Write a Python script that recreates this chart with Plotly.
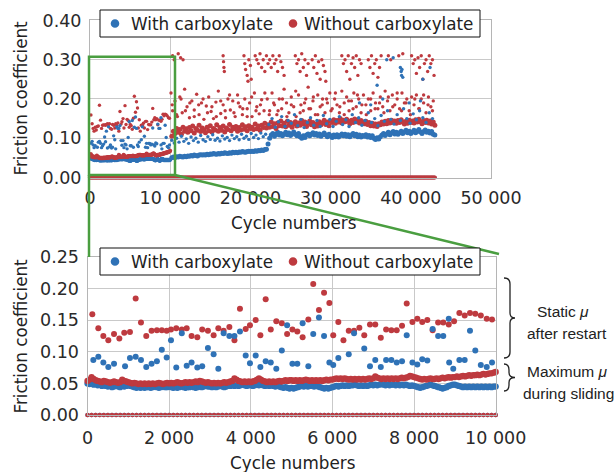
import plotly.graph_objects as go

W, H = 616, 472
BLUE = "#2f72b6"
RED = "#be3a3f"
GREEN = "rgb(74,158,64)"
GRID = "#c9c9c9"
FONT = "DejaVu Sans"

# ---------------- data ----------------
TOP_X_TICKS = [0, 10000, 20000, 30000, 40000, 50000]
TOP_X_LABELS = ["0", "10 000", "20 000", "30 000", "40 000", "50 000"]
TOP_Y_TICKS = [0.0, 0.1, 0.2, 0.3, 0.4]
TOP_Y_LABELS = ["0.00", "0.10", "0.20", "0.30", "0.40"]
LOW_X_TICKS = [0, 2000, 4000, 6000, 8000, 10000]
LOW_X_LABELS = ["0", "2 000", "4 000", "6 000", "8 000", "10 000"]
LOW_Y_TICKS = [0.0, 0.05, 0.10, 0.15, 0.20, 0.25]
LOW_Y_LABELS = ["0.00", "0.05", "0.10", "0.15", "0.20", "0.25"]

# maximum mu during sliding, first 10 000 cycles (every 50 cycles)
SLIDE_CYCLES_A = list(range(0, 10001, 50))
WITH_SLIDE_A = [
    0.050, 0.049, 0.051, 0.048, 0.049, 0.047, 0.048, 0.046, 0.047, 0.046,
    0.045, 0.046, 0.044, 0.045, 0.046, 0.045, 0.044, 0.046, 0.045, 0.046,
    0.047, 0.046, 0.045, 0.044, 0.043, 0.044, 0.043, 0.044, 0.043, 0.044,
    0.044, 0.043, 0.044, 0.045, 0.044, 0.043, 0.044, 0.045, 0.044, 0.044,
    0.045, 0.044, 0.043, 0.044, 0.043, 0.044, 0.045, 0.044, 0.043, 0.044,
    0.044, 0.045, 0.044, 0.043, 0.044, 0.045, 0.044, 0.045, 0.046, 0.045,
    0.045, 0.044, 0.045, 0.044, 0.045, 0.046, 0.045, 0.044, 0.045, 0.046,
    0.046, 0.047, 0.046, 0.047, 0.046, 0.047, 0.048, 0.047, 0.046, 0.047,
    0.047, 0.046, 0.047, 0.048, 0.047, 0.048, 0.047, 0.046, 0.047, 0.046,
    0.047, 0.046, 0.045, 0.046, 0.045, 0.044, 0.043, 0.044, 0.043, 0.042,
    0.043, 0.042, 0.043, 0.044, 0.045, 0.046, 0.045, 0.046, 0.045, 0.046,
    0.046, 0.045, 0.046, 0.045, 0.044, 0.043, 0.042, 0.043, 0.042, 0.043,
    0.044, 0.045, 0.046, 0.045, 0.046, 0.047, 0.046, 0.047, 0.046, 0.047,
    0.047, 0.048, 0.047, 0.046, 0.047, 0.046, 0.047, 0.046, 0.047, 0.048,
    0.047, 0.048, 0.047, 0.048, 0.049, 0.048, 0.047, 0.048, 0.047, 0.048,
    0.048, 0.047, 0.048, 0.047, 0.048, 0.047, 0.048, 0.047, 0.046, 0.047,
    0.046, 0.045, 0.044, 0.043, 0.044, 0.045, 0.046, 0.047, 0.048, 0.047,
    0.046, 0.045, 0.044, 0.043, 0.042, 0.043, 0.044, 0.046, 0.047, 0.048,
    0.048, 0.047, 0.046, 0.045, 0.044, 0.045, 0.044, 0.045, 0.044, 0.045,
    0.044, 0.045, 0.044, 0.045, 0.044, 0.045, 0.044, 0.045, 0.044, 0.045,
    0.045,
]
WITHOUT_SLIDE_A = [
    0.054, 0.056, 0.060, 0.057, 0.055, 0.054, 0.053, 0.052, 0.054, 0.053,
    0.052, 0.051, 0.052, 0.053, 0.052, 0.051, 0.052, 0.056, 0.054, 0.053,
    0.052, 0.051, 0.050, 0.051, 0.050, 0.049, 0.050, 0.049, 0.050, 0.049,
    0.050, 0.049, 0.050, 0.049, 0.050, 0.051, 0.050, 0.049, 0.050, 0.051,
    0.050, 0.051, 0.050, 0.051, 0.052, 0.051, 0.050, 0.051, 0.052, 0.051,
    0.052, 0.051, 0.052, 0.053, 0.052, 0.054, 0.053, 0.052, 0.051, 0.052,
    0.051, 0.050, 0.051, 0.050, 0.051, 0.050, 0.051, 0.052, 0.051, 0.052,
    0.053, 0.054, 0.058, 0.056, 0.054, 0.053, 0.052, 0.053, 0.052, 0.053,
    0.052, 0.053, 0.054, 0.056, 0.058, 0.056, 0.054, 0.053, 0.052, 0.053,
    0.052, 0.053, 0.052, 0.053, 0.054, 0.053, 0.054, 0.055, 0.054, 0.055,
    0.055, 0.054, 0.055, 0.054, 0.055, 0.054, 0.055, 0.056, 0.055, 0.054,
    0.055, 0.054, 0.055, 0.054, 0.055, 0.054, 0.055, 0.056, 0.055, 0.056,
    0.056, 0.057, 0.058, 0.057, 0.058, 0.057, 0.058, 0.057, 0.056, 0.057,
    0.056, 0.057, 0.056, 0.057, 0.056, 0.057, 0.056, 0.057, 0.058, 0.057,
    0.058, 0.061, 0.059, 0.058, 0.057, 0.058, 0.057, 0.058, 0.057, 0.058,
    0.057, 0.058, 0.057, 0.058, 0.059, 0.058, 0.059, 0.060, 0.062, 0.061,
    0.060, 0.059, 0.058, 0.057, 0.056, 0.057, 0.056, 0.057, 0.058, 0.057,
    0.057, 0.058, 0.057, 0.058, 0.059, 0.058, 0.059, 0.060, 0.059, 0.060,
    0.060, 0.061, 0.060, 0.061, 0.062, 0.061, 0.062, 0.063, 0.062, 0.063,
    0.063, 0.064, 0.063, 0.064, 0.065, 0.064, 0.065, 0.066, 0.066, 0.067,
    0.068,
]

# maximum mu during sliding, 10 200 - 43 000 cycles (every 200 cycles)
SLIDE_CYCLES_B = list(range(10200, 43001, 200))
WITH_SLIDE_B = [
    0.050, 0.052, 0.051, 0.053, 0.052, 0.054, 0.053, 0.052, 0.054, 0.053,
    0.055, 0.054, 0.056, 0.055, 0.057, 0.056, 0.055, 0.057, 0.058, 0.057,
    0.058, 0.057, 0.059, 0.058, 0.060, 0.059, 0.061, 0.060, 0.059, 0.061,
    0.060, 0.062, 0.061, 0.063, 0.062, 0.061, 0.063, 0.062, 0.064, 0.063,
    0.064, 0.063, 0.065, 0.064, 0.066, 0.065, 0.064, 0.066, 0.067, 0.066,
    0.067, 0.066, 0.068, 0.067, 0.069, 0.068, 0.070, 0.069, 0.071, 0.072,
    0.085, 0.100, 0.108, 0.112, 0.105, 0.110, 0.115, 0.108, 0.112, 0.106,
    0.110, 0.115, 0.109, 0.113, 0.107, 0.111, 0.116, 0.110, 0.106, 0.112,
    0.104, 0.100, 0.106, 0.102, 0.108, 0.111, 0.106, 0.110, 0.114, 0.108,
    0.112, 0.107, 0.111, 0.105, 0.109, 0.113, 0.108, 0.104, 0.110, 0.106,
    0.102, 0.108, 0.104, 0.109, 0.103, 0.107, 0.111, 0.106, 0.110, 0.105,
    0.109, 0.104, 0.108, 0.112, 0.106, 0.110, 0.104, 0.108, 0.103, 0.107,
    0.105, 0.109, 0.103, 0.107, 0.102, 0.106, 0.100, 0.097, 0.101, 0.098,
    0.104, 0.108, 0.112, 0.107, 0.111, 0.115, 0.109, 0.113, 0.117, 0.111,
    0.115, 0.110, 0.114, 0.118, 0.112, 0.116, 0.120, 0.114, 0.118, 0.112,
    0.116, 0.120, 0.114, 0.118, 0.122, 0.116, 0.112, 0.117, 0.121, 0.115,
    0.118, 0.113, 0.117, 0.110, 0.108,
]
WITHOUT_SLIDE_B = [
    0.105, 0.118, 0.112, 0.125, 0.115, 0.122, 0.110, 0.128, 0.118, 0.124,
    0.115, 0.127, 0.119, 0.131, 0.113, 0.125, 0.120, 0.133, 0.117, 0.126,
    0.121, 0.114, 0.128, 0.119, 0.132, 0.116, 0.125, 0.121, 0.134, 0.118,
    0.127, 0.120, 0.131, 0.116, 0.126, 0.122, 0.135, 0.119, 0.128, 0.124,
    0.130, 0.118, 0.127, 0.121, 0.134, 0.123, 0.129, 0.119, 0.132, 0.125,
    0.128, 0.122, 0.136, 0.124, 0.131, 0.120, 0.133, 0.127, 0.138, 0.126,
    0.134, 0.128, 0.141, 0.130, 0.137, 0.125, 0.139, 0.132, 0.144, 0.131,
    0.138, 0.129, 0.143, 0.133, 0.140, 0.128, 0.136, 0.142, 0.131, 0.139,
    0.133, 0.145, 0.136, 0.141, 0.130, 0.138, 0.144, 0.134, 0.140, 0.129,
    0.136, 0.131, 0.142, 0.134, 0.139, 0.146, 0.135, 0.141, 0.132, 0.143,
    0.140, 0.147, 0.138, 0.145, 0.141, 0.150, 0.139, 0.146, 0.142, 0.148,
    0.143, 0.137, 0.146, 0.140, 0.149, 0.142, 0.147, 0.139, 0.145, 0.141,
    0.137, 0.143, 0.135, 0.140, 0.132, 0.138, 0.131, 0.136, 0.130, 0.137,
    0.134, 0.141, 0.136, 0.143, 0.137, 0.145, 0.139, 0.146, 0.140, 0.144,
    0.138, 0.145, 0.140, 0.147, 0.141, 0.136, 0.143, 0.138, 0.146, 0.140,
    0.144, 0.139, 0.147, 0.141, 0.148, 0.142, 0.137, 0.145, 0.140, 0.146,
    0.139, 0.144, 0.136, 0.141, 0.133,
]

# static mu after restart, first 10 000 cycles
WITH_STATIC_CYCLES_A = [
    143, 265, 388, 510, 650, 920, 1040, 1180, 1310, 1440, 1570, 1700, 1820, 1940,
    2045, 2175, 2310, 2430, 2550, 2690, 2810, 2950, 3090, 3205, 3335, 3475, 3600,
    3735, 3875, 3980, 4120, 4235, 4365, 4490, 4625, 4760, 4890, 5020, 5140, 5270,
    5410, 5530, 5670, 5795, 5925, 6020, 6145, 6400, 6530, 6780, 6920, 7050, 7185,
    7315, 7445, 7575, 7705, 7820, 7960, 8080, 8200, 8325, 8455, 8590, 8715, 8850,
    8860, 8960, 9110, 9240, 9370, 9500, 9635, 9780, 9910,
]
WITH_STATIC_A = [
    0.087, 0.092, 0.083, 0.076, 0.081, 0.077, 0.090, 0.092, 0.087, 0.076, 0.081, 0.085, 0.103, 0.091,
    0.118, 0.075, 0.129, 0.078, 0.083, 0.075, 0.077, 0.106, 0.096, 0.073, 0.129, 0.125, 0.125,
    0.132, 0.094, 0.082, 0.094, 0.076, 0.085, 0.083, 0.073, 0.102, 0.142, 0.081, 0.081, 0.145,
    0.077, 0.128, 0.154, 0.125, 0.083, 0.079, 0.090, 0.096, 0.129, 0.105, 0.077, 0.087, 0.076,
    0.087, 0.087, 0.083, 0.085, 0.126, 0.083, 0.080, 0.088, 0.086, 0.136, 0.125, 0.125, 0.152,
    0.083, 0.073, 0.087, 0.087, 0.133, 0.102, 0.079, 0.076, 0.083,
]
WITHOUT_STATIC_CYCLES_A = [
    118, 265, 388, 510, 650, 780, 900, 1040, 1180, 1310, 1440, 1570, 1700, 1820, 1940,
    2045, 2175, 2310, 2430, 2550, 2690, 2810, 2950, 3090, 3205, 3335, 3475, 3600, 3735,
    3875, 3980, 4120, 4235, 4365, 4490, 4625, 4760, 4890, 5020, 5140, 5270, 5410, 5530,
    5670, 5795, 5925, 6020, 6145, 6270, 6400, 6530, 6660, 6780, 6920, 7050, 7185, 7315,
    7445, 7575, 7705, 7820, 7960, 8080, 8200, 8325, 8455, 8590, 8715, 8850, 8980, 9110,
    9240, 9370, 9500, 9635, 9780, 9910,
]
WITHOUT_STATIC_A = [
    0.159, 0.137, 0.125, 0.118, 0.128, 0.121, 0.130, 0.131, 0.184, 0.146, 0.125, 0.133, 0.134, 0.134, 0.133,
    0.135, 0.137, 0.135, 0.137, 0.125, 0.123, 0.135, 0.133, 0.126, 0.137, 0.133, 0.139, 0.118, 0.168,
    0.136, 0.142, 0.150, 0.126, 0.183, 0.135, 0.148, 0.145, 0.128, 0.135, 0.132, 0.123, 0.151, 0.207,
    0.166, 0.193, 0.177, 0.126, 0.147, 0.118, 0.133, 0.133, 0.138, 0.126, 0.143, 0.143, 0.122, 0.135,
    0.134, 0.134, 0.141, 0.176, 0.147, 0.152, 0.147, 0.150, 0.134, 0.146, 0.146, 0.143, 0.148, 0.161,
    0.157, 0.161, 0.160, 0.157, 0.152, 0.151,
]

# static mu after restart, 10 000 - 43 000 cycles
WITH_STATIC_CYCLES_B = [
    10200, 10500, 10800, 11100, 11400, 11700, 12000, 12300, 12600, 12900, 13200, 13500,
    13800, 14100, 14400, 14700, 15000, 15300, 15600, 15900, 16200, 16500, 16800, 17100,
    17400, 17700, 18000, 18300, 18600, 18900, 19200, 19500, 19800, 20100, 20400, 20700,
    21000, 21300, 21600, 21900,
    22300, 22700, 23100, 23500, 23900, 24300, 24700, 25100, 25500, 25900, 26300, 26700,
    27100, 27500, 27900, 28300, 28700, 29100, 29500, 29900, 30300, 30700, 31100, 31500,
    31900, 32300, 32700, 33100, 33500, 33900, 34300, 34700, 35100, 35500, 35900, 36300,
    36700, 37100, 37500, 37900, 38300, 38700, 39100, 39500, 39900, 40300, 40700, 41100,
    41500, 41900, 42300, 42700,
    33600, 35000, 36500, 39800, 41200,
    37000, 37800, 38700, 38800, 38850, 38900, 39000, 41500, 42400, 35800,
]
WITH_STATIC_B = [
    0.095, 0.088, 0.100, 0.090, 0.105, 0.092, 0.098, 0.087, 0.103, 0.094, 0.100, 0.090,
    0.107, 0.096, 0.092, 0.104, 0.097, 0.109, 0.095, 0.100, 0.093, 0.106, 0.098, 0.102,
    0.094, 0.108, 0.099, 0.104, 0.096, 0.110, 0.100, 0.105, 0.097, 0.112, 0.102, 0.108,
    0.099, 0.113, 0.104, 0.110,
    0.135, 0.150, 0.128, 0.142, 0.155, 0.130, 0.145, 0.138, 0.160, 0.132, 0.148, 0.127,
    0.140, 0.152, 0.133, 0.145, 0.130, 0.158, 0.137, 0.148, 0.130, 0.143, 0.155, 0.135,
    0.147, 0.130, 0.160, 0.140, 0.152, 0.133, 0.145, 0.165, 0.140, 0.150, 0.132, 0.158,
    0.143, 0.170, 0.148, 0.136, 0.160, 0.145, 0.175, 0.150, 0.138, 0.162, 0.147, 0.170,
    0.152, 0.140, 0.165, 0.150,
    0.190, 0.185, 0.200, 0.190, 0.195,
    0.300, 0.305, 0.280, 0.270, 0.260, 0.275, 0.255, 0.250, 0.280, 0.235,
]
WITHOUT_STATIC_CYCLES_B = [
    10100, 10300, 10600, 10900, 11200, 11500, 11800, 12100, 12400, 12700, 13000, 13300,
    13600, 13900, 14200, 14500, 14800, 15100, 15400, 15700, 16000, 16300, 16600, 16900,
    17200, 17500, 17800, 18100, 18400, 18700, 19000, 19300, 19600, 19900, 20200, 20500,
    20800, 21100, 21400, 21700,
    10300, 10500, 11000, 11300, 11600, 16600, 16650, 16700, 16750,
    19200, 19300, 19400, 19600, 19700, 19800, 20000, 20100,
    20600, 20800, 21000, 21200, 21400, 21600, 21800, 22000, 22200, 22400, 22600, 22800,
    23000, 23200, 23400, 23600, 23800, 24000, 24200,
    25600, 25800, 26000, 26200, 26400, 26600, 26800, 27000, 27200,
    27700, 27900, 28100, 28300, 28500, 28700, 28900, 29100, 29300, 29400,
    31400, 31600, 31800, 32000, 32200, 32400, 32600, 32800, 33000, 33200, 33400, 33600, 33800,
    34700, 34900, 35100, 35300, 35500, 35700, 35900, 36100, 36300,
    37200, 37500, 38500, 39000,
    40100, 40300, 40500, 40700, 40900, 41100, 41300, 41500, 41700, 41900, 42100, 42300,
    42500, 42700, 42900,
    22100, 22400, 22700, 23000, 23300, 23600, 23900, 24200, 24500, 24800, 25100, 25400,
    25700, 26000, 26300, 26600, 26900, 27200, 27500, 27800, 28100, 28400, 28700, 29000,
    29300, 29600, 29900, 30200, 30500, 30800, 31100, 31400, 31700, 32000, 32300, 32600,
    32900, 33200, 33500, 33800, 34100, 34400, 34700, 35000, 35300, 35600, 35900, 36200,
    36500, 36800, 37100, 37400, 37700, 38000, 38300, 38600, 38900, 39200, 39500, 39800,
    40100, 40400, 40700, 41000, 41300, 41600, 41900, 42200, 42500, 42800,
]
WITHOUT_STATIC_B = [
    0.215, 0.170, 0.195, 0.155, 0.205, 0.165, 0.225, 0.180, 0.152, 0.195, 0.172, 0.212,
    0.160, 0.190, 0.148, 0.182, 0.205, 0.168, 0.150, 0.192, 0.220, 0.163, 0.185, 0.152,
    0.200, 0.172, 0.195, 0.155, 0.210, 0.180, 0.160, 0.200, 0.175, 0.190, 0.155, 0.215,
    0.180, 0.162, 0.198, 0.170,
    0.310, 0.300, 0.315, 0.305, 0.300, 0.310, 0.295, 0.280, 0.270,
    0.310, 0.290, 0.275, 0.260, 0.245, 0.300, 0.285, 0.250,
    0.310, 0.300, 0.290, 0.315, 0.280, 0.300, 0.270, 0.310, 0.290, 0.300, 0.280, 0.310,
    0.290, 0.300, 0.270, 0.310, 0.295, 0.280, 0.260,
    0.310, 0.290, 0.300, 0.270, 0.315, 0.280, 0.300, 0.260, 0.290,
    0.300, 0.280, 0.310, 0.265, 0.295, 0.250, 0.300, 0.285, 0.270, 0.245,
    0.310, 0.290, 0.300, 0.270, 0.310, 0.250, 0.290, 0.305, 0.280, 0.310, 0.260, 0.300, 0.290,
    0.300, 0.280, 0.310, 0.265, 0.290, 0.300, 0.255, 0.280, 0.310,
    0.310, 0.300, 0.310, 0.315,
    0.310, 0.290, 0.300, 0.265, 0.305, 0.280, 0.310, 0.250, 0.290, 0.300, 0.270, 0.310,
    0.290, 0.300, 0.260,
    0.200, 0.170, 0.215, 0.185, 0.160, 0.200, 0.175, 0.225, 0.190, 0.165, 0.205, 0.180,
    0.155, 0.210, 0.185, 0.170, 0.200, 0.230, 0.175, 0.195, 0.160, 0.210, 0.180, 0.200,
    0.165, 0.190, 0.215, 0.175, 0.200, 0.185, 0.165, 0.220, 0.190, 0.205, 0.170, 0.195,
    0.215, 0.180, 0.200, 0.165, 0.210, 0.185, 0.200, 0.170, 0.215, 0.190, 0.175, 0.205,
    0.180, 0.220, 0.195, 0.170, 0.210, 0.185, 0.200, 0.175, 0.215, 0.190, 0.200, 0.170,
    0.205, 0.185, 0.210, 0.175, 0.200, 0.190, 0.165, 0.205, 0.180, 0.195,
]
WITHOUT_STATIC_CYCLES_C = [
    10250, 10800, 11350, 11900, 12450, 13000, 13550, 14100, 14650, 15200, 15750, 16300,
    16850, 17400, 17950, 18500, 19050, 19600, 20150, 20700, 21250, 21800, 22350, 22900,
    23450, 24000, 24550, 25100, 25650, 26200, 26750, 27300, 27850, 28400, 28950, 29500,
    30050, 30600, 31150, 31700, 32250, 32800, 33350, 33900, 34450, 35000, 35550, 36100,
    36650, 37200, 37750, 38300, 38850, 39400, 39950, 40500, 41050, 41600, 42150, 42700,
]
WITHOUT_STATIC_C = [
    0.185, 0.160, 0.200, 0.170, 0.190, 0.155, 0.185, 0.200, 0.165, 0.180, 0.155, 0.195,
    0.170, 0.210, 0.165, 0.190, 0.175, 0.155, 0.205, 0.170, 0.185, 0.215, 0.160, 0.190,
    0.170, 0.200, 0.155, 0.185, 0.220, 0.165, 0.190, 0.175, 0.205, 0.160, 0.185, 0.200,
    0.170, 0.215, 0.180, 0.160, 0.195, 0.175, 0.210, 0.185, 0.160, 0.200, 0.175, 0.190,
    0.165, 0.205, 0.180, 0.215, 0.170, 0.190, 0.160, 0.200, 0.175, 0.210, 0.185, 0.170,
]

# readings of zero between runs
ZERO_CYCLES_TOP = list(range(0, 43001, 100))
ZERO_TOP = [0.0] * len(ZERO_CYCLES_TOP)
ZERO_CYCLES_LOW = list(range(0, 10001, 100))
ZERO_LOW = [0.0] * len(ZERO_CYCLES_LOW)

SERIES_NAMES = ["With carboxylate", "Without carboxylate"]

# ---------------- figure ----------------
def px(x):
    return x / W


def py(y):
    return 1 - y / H


fig = go.Figure()


def add(x, y, color, size, xa, ya, name):
    fig.add_trace(go.Scatter(
        x=x, y=y, mode="markers", name=name, showlegend=False,
        marker=dict(color=color, size=size, line=dict(width=0)),
        xaxis=xa, yaxis=ya, cliponaxis=False, hoverinfo="skip"))


# top panel (whole test)
add(ZERO_CYCLES_TOP, ZERO_TOP, BLUE, 3.5, "x", "y", SERIES_NAMES[0])
add(ZERO_CYCLES_TOP, ZERO_TOP, RED, 4.2, "x", "y", SERIES_NAMES[1])
add(SLIDE_CYCLES_A, WITH_SLIDE_A, BLUE, 4, "x", "y", SERIES_NAMES[0])
add(SLIDE_CYCLES_B, WITH_SLIDE_B, BLUE, 5, "x", "y", SERIES_NAMES[0])
add(SLIDE_CYCLES_A, WITHOUT_SLIDE_A, RED, 4, "x", "y", SERIES_NAMES[1])
add(SLIDE_CYCLES_B, WITHOUT_SLIDE_B, RED, 5, "x", "y", SERIES_NAMES[1])
add(WITHOUT_STATIC_CYCLES_A + WITHOUT_STATIC_CYCLES_B + WITHOUT_STATIC_CYCLES_C,
    WITHOUT_STATIC_A + WITHOUT_STATIC_B + WITHOUT_STATIC_C, RED, 3.4, "x", "y", SERIES_NAMES[1])
add(WITH_STATIC_CYCLES_A + WITH_STATIC_CYCLES_B, WITH_STATIC_A + WITH_STATIC_B, BLUE, 3.4, "x", "y", SERIES_NAMES[0])

# bottom panel (first 10 000 cycles)
add(ZERO_CYCLES_LOW, ZERO_LOW, BLUE, 4.5, "x2", "y2", SERIES_NAMES[0])
add(ZERO_CYCLES_LOW, ZERO_LOW, RED, 4.5, "x2", "y2", SERIES_NAMES[1])
add(SLIDE_CYCLES_A, WITH_SLIDE_A, BLUE, 6.3, "x2", "y2", SERIES_NAMES[0])
add(SLIDE_CYCLES_A, WITHOUT_SLIDE_A, RED, 6.3, "x2", "y2", SERIES_NAMES[1])
add(WITHOUT_STATIC_CYCLES_A, WITHOUT_STATIC_A, RED, 6, "x2", "y2", SERIES_NAMES[1])
add(WITH_STATIC_CYCLES_A, WITH_STATIC_A, BLUE, 6, "x2", "y2", SERIES_NAMES[0])

tickfont = dict(family=FONT, size=17.5, color="#2a2a2a")
axis_common = dict(showgrid=True, gridcolor=GRID, gridwidth=1, zeroline=False,
                   showline=True, linecolor="#b5b5b5", linewidth=1, mirror=True,
                   ticks="", tickfont=tickfont, fixedrange=True, automargin=False)

fig.update_layout(
    template="none",
    width=W, height=H, autosize=False, margin=dict(l=0, r=0, t=0, b=0, pad=0),
    paper_bgcolor="white", plot_bgcolor="white", showlegend=False,
    font=dict(family=FONT, color="#222222"),
    xaxis=dict(domain=[px(90), px(491)], range=[0, 50000], anchor="y",
               tickvals=TOP_X_TICKS, ticktext=TOP_X_LABELS, ticklabelstandoff=4, **axis_common),
    yaxis=dict(domain=[py(177.5), py(20.4)], range=[0, 0.4], anchor="x",
               tickvals=TOP_Y_TICKS, ticktext=TOP_Y_LABELS, ticklabelstandoff=4, **axis_common),
    xaxis2=dict(domain=[px(87.5), px(495.7)], range=[0, 10000], anchor="y2",
                tickvals=LOW_X_TICKS, ticktext=LOW_X_LABELS, ticklabelstandoff=7, **axis_common),
    yaxis2=dict(domain=[py(415.1), py(256.7)], range=[0, 0.25], anchor="x2",
                tickvals=LOW_Y_TICKS, ticktext=LOW_Y_LABELS, ticklabelstandoff=4, **axis_common),
)

shapes = []
ann = []
# green zoom indicator
gline = dict(color=GREEN, width=2.5)
shapes.append(dict(type="rect", xref="paper", yref="paper", x0=px(89), x1=px(175),
                   y0=py(175), y1=py(56.7), line=gline, layer="above"))
shapes.append(dict(type="line", xref="paper", yref="paper", x0=px(89), x1=px(89),
                   y0=py(175), y1=py(257), line=gline, layer="above"))
shapes.append(dict(type="line", xref="paper", yref="paper", x0=px(175), x1=px(499),
                   y0=py(175), y1=py(254), line=gline, layer="above"))

# legends
for top in (10, 248):
    bot = top + 27
    cy = (top + bot) / 2
    shapes.append(dict(type="rect", xref="paper", yref="paper", x0=px(100), x1=px(480),
                       y0=py(bot), y1=py(top), line=dict(color="#111111", width=1),
                       fillcolor="white", layer="above"))
    for cx, col in ((115, BLUE), (293, RED)):
        r = 4.3
        shapes.append(dict(type="circle", xref="paper", yref="paper", x0=px(cx - r), x1=px(cx + r),
                           y0=py(cy + r), y1=py(cy - r), line=dict(width=0), fillcolor=col,
                           layer="above"))
    ann.append(dict(text=SERIES_NAMES[0], x=px(129), y=py(cy + 0.5), xanchor="left", yanchor="middle"))
    ann.append(dict(text=SERIES_NAMES[1], x=px(301.5), y=py(cy + 0.5), xanchor="left", yanchor="middle"))

# axis titles
for cy in (98, 336):
    ann.append(dict(text="Friction coefficient", x=px(20.5), y=py(cy), textangle=-90,
                    xanchor="center", yanchor="middle"))
ann.append(dict(text="Cycle numbers", x=px(293), y=py(223), xanchor="center", yanchor="middle"))
ann.append(dict(text="Cycle numbers", x=px(292), y=py(463), xanchor="center", yanchor="middle"))

for a in ann:
    a.update(xref="paper", yref="paper", showarrow=False,
             font=dict(family=FONT, size=16.8, color="#222222"))
    fig.add_annotation(**a)

# brackets on the right
def brace(y0, y1, xl=504, xs=510, xt=515):
    ym = (y0 + y1) / 2
    pts = [
        f"M{px(xl)},{py(y0)}",
        f"Q{px(xs)},{py(y0)} {px(xs)},{py(y0 + 6)}",
        f"L{px(xs)},{py(ym - 5)}",
        f"Q{px(xs)},{py(ym)} {px(xt)},{py(ym)}",
        f"Q{px(xs)},{py(ym)} {px(xs)},{py(ym + 5)}",
        f"L{px(xs)},{py(y1 - 6)}",
        f"Q{px(xs)},{py(y1)} {px(xl)},{py(y1)}",
    ]
    return dict(type="path", xref="paper", yref="paper", path=" ".join(pts),
                line=dict(color="#222222", width=1.3), layer="above")


shapes.append(brace(278, 358))
shapes.append(brace(364, 391, xs=509))

side = dict(family="Liberation Sans", size=15.5, color="#222222")
for text, x, y in (("Static <i>μ</i>", 563, 311.5), ("after restart", 567, 333.5),
                   ("Maximum <i>μ</i>", 567, 371), ("during sliding", 568, 393)):
    fig.add_annotation(text=text, x=px(x), y=py(y), xref="paper", yref="paper",
                       showarrow=False, xanchor="center", yanchor="middle", font=side)

fig.update_layout(shapes=shapes)
fig.write_html("out.html", config={"responsive": False, "displayModeBar": False},
               post_script="document.body.style.margin='0';document.body.style.overflow='hidden';")
